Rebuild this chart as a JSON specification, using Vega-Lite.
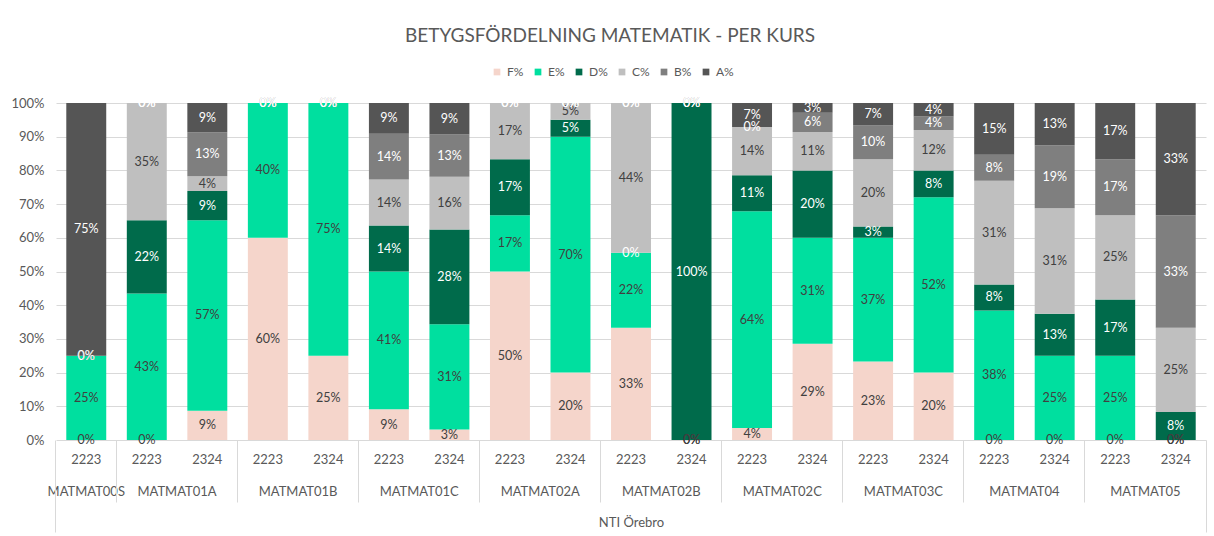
{
  "$schema": "https://vega.github.io/schema/vega-lite/v6.json",
  "width": 1150,
  "height": 337,
  "autosize": {"type": "none"},
  "padding": {"left": 56, "top": 103, "right": 8, "bottom": 96},
  "background": "#ffffff",
  "config": {"view": {"stroke": null}, "font": "Lato"},
  "title": {"text": "BETYGSFÖRDELNING MATEMATIK - PER KURS", "fontSize": 19, "font": "Lato", "fontWeight": "normal", "color": "#595959", "anchor": "middle", "dx": -21, "offset": 20},
  "data": {"values": [
    {"k": "MATMAT00S|2223", "F": 0, "E": 0.25, "D": 0, "C": 0, "B": 0, "A": 0.75},
    {"k": "MATMAT01A|2223", "F": 0, "E": 0.4348, "D": 0.2174, "C": 0.3478, "B": 0, "A": 0},
    {"k": "MATMAT01A|2324", "F": 0.087, "E": 0.5652, "D": 0.087, "C": 0.0435, "B": 0.1304, "A": 0.087},
    {"k": "MATMAT01B|2223", "F": 0.6, "E": 0.4, "D": 0, "C": 0, "B": 0, "A": 0},
    {"k": "MATMAT01B|2324", "F": 0.25, "E": 0.75, "D": 0, "C": 0, "B": 0, "A": 0},
    {"k": "MATMAT01C|2223", "F": 0.0909, "E": 0.4091, "D": 0.1364, "C": 0.1364, "B": 0.1364, "A": 0.0909},
    {"k": "MATMAT01C|2324", "F": 0.0313, "E": 0.3125, "D": 0.2813, "C": 0.1563, "B": 0.125, "A": 0.0938},
    {"k": "MATMAT02A|2223", "F": 0.5, "E": 0.1667, "D": 0.1667, "C": 0.1667, "B": 0, "A": 0},
    {"k": "MATMAT02A|2324", "F": 0.2, "E": 0.7, "D": 0.05, "C": 0.05, "B": 0, "A": 0},
    {"k": "MATMAT02B|2223", "F": 0.3333, "E": 0.2222, "D": 0, "C": 0.4444, "B": 0, "A": 0},
    {"k": "MATMAT02B|2324", "F": 0, "E": 0, "D": 1, "C": 0, "B": 0, "A": 0},
    {"k": "MATMAT02C|2223", "F": 0.0357, "E": 0.6429, "D": 0.1071, "C": 0.1429, "B": 0, "A": 0.0714},
    {"k": "MATMAT02C|2324", "F": 0.2857, "E": 0.3143, "D": 0.2, "C": 0.1143, "B": 0.0571, "A": 0.0286},
    {"k": "MATMAT03C|2223", "F": 0.2333, "E": 0.3667, "D": 0.0333, "C": 0.2, "B": 0.1, "A": 0.0667},
    {"k": "MATMAT03C|2324", "F": 0.2, "E": 0.52, "D": 0.08, "C": 0.12, "B": 0.04, "A": 0.04},
    {"k": "MATMAT04|2223", "F": 0, "E": 0.3846, "D": 0.0769, "C": 0.3077, "B": 0.0769, "A": 0.1538},
    {"k": "MATMAT04|2324", "F": 0, "E": 0.25, "D": 0.125, "C": 0.3125, "B": 0.1875, "A": 0.125},
    {"k": "MATMAT05|2223", "F": 0, "E": 0.25, "D": 0.1667, "C": 0.25, "B": 0.1667, "A": 0.1667},
    {"k": "MATMAT05|2324", "F": 0, "E": 0, "D": 0.0833, "C": 0.25, "B": 0.3333, "A": 0.3333}
  ]},
  "transform": [
    {"fold": ["F", "E", "D", "C", "B", "A"], "as": ["g", "v"]},
    {"stack": "v", "groupby": ["k"], "sort": [{"field": "g", "order": "descending"}], "offset": "normalize", "as": ["y0", "y1"]},
    {"calculate": "(datum.y0 + datum.y1) / 2", "as": "ym"}
  ],
  "layer": [
    {
      "mark": {"type": "bar"},
      "encoding": {
        "x": {"field": "k", "type": "nominal", "sort": null,
          "scale": {"domain": ["MATMAT00S|2223", "MATMAT01A|2223", "MATMAT01A|2324", "MATMAT01B|2223", "MATMAT01B|2324", "MATMAT01C|2223", "MATMAT01C|2324", "MATMAT02A|2223", "MATMAT02A|2324", "MATMAT02B|2223", "MATMAT02B|2324", "MATMAT02C|2223", "MATMAT02C|2324", "MATMAT03C|2223", "MATMAT03C|2324", "MATMAT04|2223", "MATMAT04|2324", "MATMAT05|2223", "MATMAT05|2324"], "paddingInner": 0.34, "paddingOuter": 0.17},
          "axis": {"orient": "bottom", "title": null, "domain": false, "ticks": false, "labelAngle": 0, "labelExpr": "split(datum.value, '|')[1]", "labelPadding": 13, "labelFontSize": 13, "labelColor": "#595959", "labelFont": "Lato"}},
        "y": {"field": "y0", "type": "quantitative", "scale": {"domain": [0, 1], "nice": false},
          "axis": {"title": null, "format": ".0%", "tickCount": 11, "values": [0, 0.1, 0.2, 0.3, 0.4, 0.5, 0.6, 0.7, 0.8, 0.9, 1], "domain": false, "ticks": false, "grid": true, "gridColor": "#d9d9d9", "gridWidth": 1, "labelFontSize": 13, "labelColor": "#595959", "labelFont": "Lato", "labelPadding": 12}},
        "y2": {"field": "y1"},
        "color": {"field": "g", "type": "nominal",
          "scale": {"domain": ["F", "E", "D", "C", "B", "A"], "range": ["#f5d5cb", "#00df9f", "#006b4b", "#bfbfbf", "#7f7f7f", "#555555"]},
          "legend": {"orient": "none", "legendX": 435, "legendY": -37, "direction": "horizontal", "title": null, "symbolType": "square", "symbolSize": 45, "symbolStrokeWidth": 0, "labelFontSize": 12, "labelColor": "#595959", "labelFont": "Lato", "labelExpr": "datum.label + '%'", "columnPadding": 8, "labelOffset": 4}}
      }
    },
    {
      "transform": [{"filter": "datum.g == 'F' || datum.g == 'E'"}],
      "mark": {"type": "text", "font": "Lato", "fontSize": 12.5, "color": "#404040", "baseline": "middle"},
      "encoding": {
        "x": {"field": "k", "type": "nominal", "sort": null,
          "axis": {"orient": "bottom", "title": "NTI Örebro", "titleFont": "Lato", "titleFontSize": 13, "titleFontWeight": "normal", "titleColor": "#595959", "titlePadding": 18, "domain": false, "ticks": false, "labelAngle": 0,
            "values": ["MATMAT00S|2223", "MATMAT01A|2223", "MATMAT01B|2223", "MATMAT01C|2223", "MATMAT02A|2223", "MATMAT02B|2223", "MATMAT02C|2223", "MATMAT03C|2223", "MATMAT04|2223", "MATMAT05|2223"],
            "labelOffset": {"condition": {"test": "datum.value == 'MATMAT00S|2223'", "value": 0}, "value": 30.26},
            "labelExpr": "split(datum.value, '|')[0]", "labelPadding": 45, "labelFontSize": 13, "labelColor": "#595959", "labelFont": "Lato", "labelOverlap": false, "labelBound": false}},
        "y": {"field": "ym", "type": "quantitative"},
        "text": {"field": "v", "type": "quantitative", "format": ".0%"}
      }
    },
    {
      "transform": [{"filter": "datum.g == 'D'"}],
      "mark": {"type": "text", "font": "Lato", "fontSize": 12.5, "color": "#ffffff", "baseline": "middle"},
      "encoding": {
        "x": {"field": "k", "type": "nominal", "sort": null,
          "axis": {"orient": "bottom", "title": null, "domain": false, "labels": false, "grid": false,
            "values": ["MATMAT00S|2223", "MATMAT01A|2223", "MATMAT01B|2223", "MATMAT01C|2223", "MATMAT02A|2223", "MATMAT02B|2223", "MATMAT02C|2223", "MATMAT03C|2223", "MATMAT04|2223", "MATMAT05|2223"],
            "bandPosition": -0.257576, "ticks": true, "tickColor": "#d9d9d9", "tickWidth": 1,
            "tickSize": {"condition": {"test": "datum.value == 'MATMAT00S|2223'", "value": 92}, "value": 62}}},
        "y": {"field": "ym", "type": "quantitative"},
        "text": {"field": "v", "type": "quantitative", "format": ".0%"}
      }
    },
    {
      "transform": [{"filter": "datum.g == 'C'"}],
      "mark": {"type": "text", "font": "Lato", "fontSize": 12.5, "color": "#404040", "baseline": "middle"},
      "encoding": {
        "x": {"field": "k", "type": "nominal", "sort": null,
          "axis": {"orient": "bottom", "title": null, "domain": false, "labels": false, "grid": false,
            "values": ["MATMAT05|2324"], "bandPosition": 1.257576, "ticks": true, "tickColor": "#d9d9d9", "tickWidth": 1, "tickSize": 92}},
        "y": {"field": "ym", "type": "quantitative"},
        "text": {"field": "v", "type": "quantitative", "format": ".0%"}
      }
    },
    {
      "transform": [{"filter": "datum.g == 'B' || datum.g == 'A'"}],
      "mark": {"type": "text", "font": "Lato", "fontSize": 12.5, "color": "#ffffff", "baseline": "middle"},
      "encoding": {
        "x": {"field": "k", "type": "nominal", "sort": null, "axis": null},
        "y": {"field": "ym", "type": "quantitative"},
        "text": {"field": "v", "type": "quantitative", "format": ".0%"}
      }
    }
  ],
  "resolve": {"axis": {"x": "independent"}}
}
